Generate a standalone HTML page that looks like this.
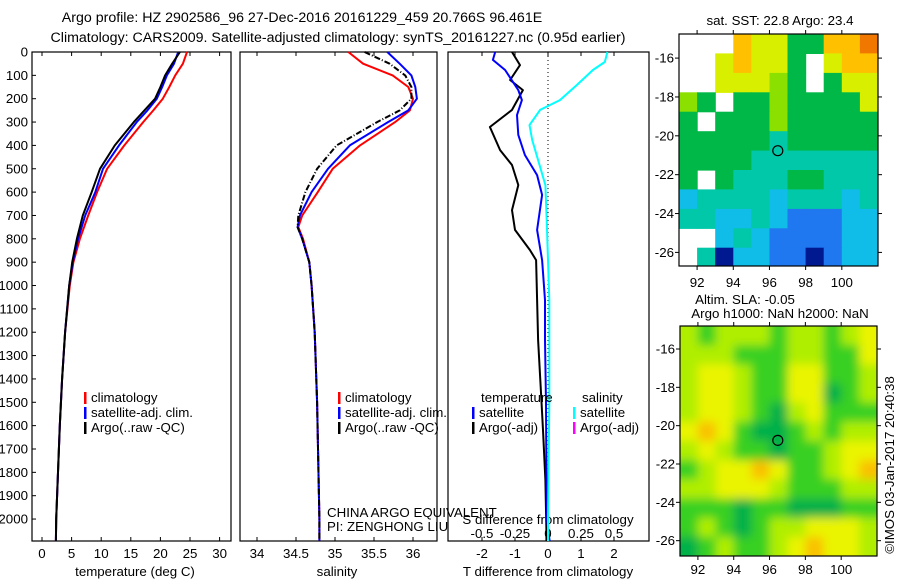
<!DOCTYPE html>
<html><head><meta charset="utf-8">
<style>
html,body{margin:0;padding:0;background:#fff;}
svg{display:block;font-family:"Liberation Sans",sans-serif;}
text{font-size:13.3px;fill:#000;}
text.ttl{font-size:14.2px;}
</style></head>
<body>
<svg id="fig" width="900" height="580" viewBox="0 0 900 580" xmlns="http://www.w3.org/2000/svg">
<defs>
<clipPath id="clipSST"><rect x="679" y="34" width="199" height="232"/></clipPath>
<clipPath id="clipSLA"><rect x="680" y="326" width="197" height="230"/></clipPath>
<filter id="blurSLA" x="-10%" y="-10%" width="120%" height="120%"><feGaussianBlur stdDeviation="4.8"/></filter>
</defs>
<text class="ttl" x="302" y="22" text-anchor="middle">Argo profile: HZ 2902586_96 27-Dec-2016 20161229_459 20.766S 96.461E</text>
<text class="ttl" x="338" y="42" text-anchor="middle">Climatology: CARS2009. Satellite-adjusted climatology: synTS_20161227.nc (0.95d earlier)</text>
</svg>
<script>
// ---------- data ----------
var tDepths = [0,50,100,150,200,250,300,400,500,600,700,800,900,1000,1200,1400,1600,1800,2000,2094];
var tempClim = [24.5,23.8,22.5,21.5,20.4,18.8,17.1,13.9,11.0,9.3,7.8,6.4,5.3,4.7,3.9,3.4,3.0,2.7,2.4,2.35];
var tempSat  = [23.0,22.3,21.1,20.3,19.4,17.8,16.0,13.0,10.3,9.0,7.3,6.1,5.2,4.6,3.9,3.4,3.0,2.7,2.4,2.35];
var tempArgo = [23.3,22.0,20.8,20.0,19.1,17.3,15.5,12.3,9.8,8.4,6.9,5.9,5.1,4.6,3.9,3.4,3.0,2.7,2.4,2.35];
var sDepths = [0,50,100,150,200,250,300,400,500,600,700,750,800,900,1000,1200,1500,2000,2094];
var salClim = [35.17,35.36,35.74,35.94,36.0,35.96,35.77,35.32,34.97,34.78,34.58,34.53,34.59,34.67,34.70,34.74,34.77,34.80,34.80];
var salSat  = [35.67,35.83,35.98,36.03,36.05,35.94,35.68,35.19,34.91,34.70,34.55,34.52,34.58,34.67,34.70,34.74,34.77,34.80,34.80];
var salArgo = [35.38,35.70,35.90,35.98,35.98,35.83,35.54,35.02,34.77,34.62,34.53,34.52,34.58,34.67,34.70,34.74,34.77,34.80,34.80];
var dArgoDepths = [0,56,120,163,248,321,420,484,570,677,762,848,891,1062,1233,1490,1619,1833,2047,2094];
var dTempArgo = [-1.09,-0.85,-1.15,-0.76,-1.09,-1.76,-1.45,-1.09,-0.9,-1.09,-1.0,-0.55,-0.36,-0.33,-0.3,-0.2,-0.15,-0.08,-0.05,-0.05];
var dSatDepths = [0,34,77,163,206,270,355,441,527,612,762,891,1062,1233,1500,1800,2000,2094];
var dTempSat = [-1.6,-1.67,-1.3,-0.9,-0.79,-0.94,-0.9,-0.7,-0.33,-0.18,-0.33,-0.18,-0.09,-0.09,-0.06,-0.05,-0.03,0.05];
var dSalDepths = [0,43,77,141,206,248,313,377,463,570,719,891,1062,1500,2000,2094];
var dSalSat = [0.45,0.43,0.34,0.22,0.09,-0.06,-0.14,-0.12,-0.075,-0.02,-0.01,0,0.01,0.01,0.0,0.0];
var depthTicks = [0,100,200,300,400,500,600,700,800,900,1000,1100,1200,1300,1400,1500,1600,1700,1800,1900,2000];
var tempTicks = [0,5,10,15,20,25,30];
var salTicks = [34,34.5,35,35.5,36];
var salTickLabels = ["34","34.5","35","35.5","36"];
var dTTicks = [-2,-1,0,1,2];
var dSTicks = [-0.5,-0.25,0,0.25,0.5];
var dSTickLabels = ["-0.5","-0.25","0","0.25","0.5"];
var lonTicks = [92,94,96,98,100];
var latTicks = [-16,-18,-20,-22,-24,-26];
var argoLon = 96.461, argoLat = -20.766;
// SST map: 1-degree cells, rows from -14.8 southward, cols lon 91..101; 9 = no data
var sstGrid = [
[9,9,9,6,5,5,3,3,6,6,7],
[9,9,5,6,5,5,3,9,5,6,6],
[9,9,5,5,5,4,3,9,3,5,5],
[4,3,9,3,3,4,3,3,3,3,5],
[3,9,3,3,3,4,3,3,3,3,3],
[3,3,3,3,3,2,3,3,3,3,3],
[3,3,3,3,2,2,2,2,2,2,2],
[3,9,3,2,2,2,3,3,2,2,2],
[1,2,2,2,2,1,2,2,2,1,2],
[2,2,1,1,2,1,0,0,0,1,1],
[9,9,1,2,1,0,0,0,0,1,1],
[9,2,8,1,1,0,0,8,0,1,1]];
// SLA map values 0..4
var slaGrid = [
[2,1,2,2,2,1,2,2,1,2,3],
[2,2,2,1,1,1,2,2,1,1,3],
[2,3,3,2,1,1,3,3,1,1,2],
[2,3,3,2,1,1,3,3,0,1,2],
[2,3,3,2,1,0,2,3,1,1,1],
[3,4,3,1,0,0,1,2,1,2,2],
[2,3,2,1,1,0,1,1,2,3,3],
[1,2,3,3,4,3,1,1,2,3,4],
[2,2,3,3,3,2,1,1,1,2,2],
[1,1,1,0,1,1,0,0,0,1,1],
[1,2,1,0,1,2,2,3,3,3,2],
[0,1,2,1,1,2,3,4,3,3,2]];

var sstColors = ["#1f78f0","#10bce8","#00c8a8","#00b848","#8ce000","#d8f000","#ffc000","#f07800","#001890"];
var slaColors = ["#00b048","#38d020","#b0ee00","#eaf400","#fac000"];

// ---------- helpers ----------
var svg = document.getElementById('fig');
var NS = "http://www.w3.org/2000/svg";
function mk(tag, attrs, parent){var e=document.createElementNS(NS,tag);for(var k in attrs)e.setAttribute(k,attrs[k]);(parent||svg).appendChild(e);return e;}
function txt(x,y,s,anchor,parent){var t=mk('text',{x:x,y:y,'text-anchor':anchor||'start'},parent);t.textContent=s;return t;}

var TOP=52, BOT=541, DMAX=2094;
function yD(d){return TOP+(BOT-TOP)*d/DMAX;}
function xT(v){return 42+v*5.92;}
function xS(v){return 257+(v-34)*78;}
function xDT(v){return 548+v*33;}
function xDS(v){return 548+v*132;}

function panel(x0,x1,name){
  var r=mk('rect',{x:x0,y:TOP,width:x1-x0,height:BOT-TOP,fill:'none',stroke:'#000','stroke-width':1.2});
  
  
}
function line(xs,ds,xf,color,name,dash,w){
  var p='';for(var i=0;i<xs.length;i++){p+=(i?'L':'M')+xf(xs[i]).toFixed(1)+','+yD(ds[i]).toFixed(1);}
  var a={d:p,fill:'none',stroke:color,'stroke-width':w||2,'stroke-linejoin':'round'};
  if(dash)a['stroke-dasharray']=dash;
  var e=mk('path',a);
  
  
}

// Panel 1 temperature
panel(32,231,'temperature-panel');
for(var i=0;i<depthTicks.length;i++){
  var y=yD(depthTicks[i]);
  mk('line',{x1:32,y1:y,x2:36,y2:y,stroke:'#000'});
  var lt=txt(28,y+4.5,String(depthTicks[i]),'end');
  
  
}
for(var i=0;i<tempTicks.length;i++){
  var x=xT(tempTicks[i]);
  mk('line',{x1:x,y1:TOP,x2:x,y2:TOP+4,stroke:'#000'});
  mk('line',{x1:x,y1:BOT,x2:x,y2:BOT-4,stroke:'#000'});
  var l=txt(x,558,String(tempTicks[i]),'middle');
  
  
}
var xl1=txt(135,576,'temperature (deg C)','middle');


line(tempClim,tDepths,xT,'#ff0000','temp-climatology-line');
line(tempSat,tDepths,xT,'#0000ff','temp-satellite-line');
line(tempArgo,tDepths,xT,'#000000','temp-argo-line');

// Panel 2 salinity
panel(240,437,'salinity-panel');
for(var i=0;i<salTicks.length;i++){
  var x=xS(salTicks[i]);
  mk('line',{x1:x,y1:TOP,x2:x,y2:TOP+4,stroke:'#000'});
  mk('line',{x1:x,y1:BOT,x2:x,y2:BOT-4,stroke:'#000'});
  var l=txt(x,558,salTickLabels[i],'middle');
  
  
}
var xl2=txt(337,576,'salinity','middle');


line(salClim,sDepths,xS,'#ff0000','sal-climatology-line');
line(salSat,sDepths,xS,'#0000ff','sal-satellite-line');
line(salArgo,sDepths,xS,'#000000','sal-argo-line','6 2 1 2');

// Panel 3 differences
panel(448,649,'difference-panel');
mk('line',{x1:548,y1:TOP,x2:548,y2:BOT,stroke:'#000','stroke-dasharray':'1 3'});
for(var i=0;i<dTTicks.length;i++){
  var x=xDT(dTTicks[i]);
  mk('line',{x1:x,y1:TOP,x2:x,y2:TOP+4,stroke:'#000'});
  mk('line',{x1:x,y1:BOT,x2:x,y2:BOT-4,stroke:'#000'});
  var l=txt(x,558,String(dTTicks[i]),'middle');
  
  
}
for(var i=0;i<dSTicks.length;i++){
  var l=txt(xDS(dSTicks[i]),538,dSTickLabels[i],'middle');
  
  
}
var sdl=txt(548,524,'S difference from climatology','middle');


var tdl=txt(548,576,'T difference from climatology','middle');


line(dTempArgo,dArgoDepths,xDT,'#000000','temp-diff-argo-line');
line(dTempSat,dSatDepths,xDT,'#0000ff','temp-diff-satellite-line');
line(dSalSat,dSalDepths,xDS,'#00ffff','sal-diff-satellite-line');

// Legends
function legEntry(x,y,color,label,name){
  var g=mk('g',{});
  
  
  mk('rect',{x:x,y:y-10,width:2.5,height:12,fill:color},g);
  txt(x+7,y,label,'start',g);
}
legEntry(84,402,'#ff0000','climatology','legend-climatology');
legEntry(84,417,'#0000ff','satellite-adj. clim.','legend-satellite-adj');
legEntry(84,432,'#000000','Argo(..raw -QC)','legend-argo');
legEntry(338,402,'#ff0000','climatology','legend-sal-climatology');
legEntry(338,417,'#0000ff','satellite-adj. clim.','legend-sal-satellite-adj');
legEntry(338,432,'#000000','Argo(..raw -QC)','legend-sal-argo');
var lt1=txt(481,402,'temperature');


var lt2=txt(582,402,'salinity');


legEntry(472,417,'#0000ff','satellite','legend-temp-satellite');
legEntry(472,432,'#000000','Argo(-adj)','legend-temp-argo');
legEntry(573,417,'#00ffff','satellite','legend-sal-satellite');
legEntry(573,432,'#ff00ff','Argo(-adj)','legend-sal-argo');
var c1=txt(327,517,'CHINA ARGO EQUIVALENT');


var c2=txt(327,531,'PI: ZENGHONG LIU');



// ---------- maps ----------
function mapAxes(x0,y0,x1,y1,latTop,latBot,name,labY){
  var lonL=91.0, lonR=102.0;
  function mx(l){return x0+(l-lonL)/(lonR-lonL)*(x1-x0);}
  function my(l){return y0+(latTop-l)/(latTop-latBot)*(y1-y0);}
  var r=mk('rect',{x:x0,y:y0,width:x1-x0,height:y1-y0,fill:'none',stroke:'#000','stroke-width':1.2});
  
  
  for(var i=0;i<lonTicks.length;i++){
    var x=mx(lonTicks[i]);
    mk('line',{x1:x,y1:y0,x2:x,y2:y0-4,stroke:'#000'});
    mk('line',{x1:x,y1:y1,x2:x,y2:y1+4,stroke:'#000'});
    var l=txt(x,labY,String(lonTicks[i]),'middle');
    
    
  }
  for(var i=0;i<latTicks.length;i++){
    var y=my(latTicks[i]);
    mk('line',{x1:x0,y1:y,x2:x0-4,y2:y,stroke:'#000'});
    mk('line',{x1:x1,y1:y,x2:x1+4,y2:y,stroke:'#000'});
    var l=txt(x0-5,y+4.5,String(latTicks[i]),'end');
    
    
  }
  return {mx:mx,my:my};
}
// SST map
var sstG=mk('g',{'clip-path':'url(#clipSST)'});


var sstLatTop=-14.76, sstLatBot=-26.7;
function sx(l){return 679+(l-91)/11*199;}
function sy(l){return 34+(sstLatTop-l)/(sstLatTop-sstLatBot)*232;}
for(var r=0;r<sstGrid.length;r++){for(var c=0;c<sstGrid[r].length;c++){
  var v=sstGrid[r][c]; if(v===9)continue;
  var cell=mk('rect',{x:sx(91+c).toFixed(1),y:sy(sstLatTop-r).toFixed(1),width:(199/11+0.6).toFixed(1),height:(232/11.94+0.6).toFixed(1),fill:sstColors[v]},sstG);
  
  
}}
var m1=mapAxes(679,34,878,266,sstLatTop,sstLatBot,'sst-map-frame',287);
var pt1=mk('circle',{cx:m1.mx(argoLon),cy:m1.my(argoLat),r:5,fill:'none',stroke:'#000','stroke-width':1.2});


var st1=txt(780,25,'sat. SST: 22.8 Argo: 23.4','middle');



// SLA map
var slaClip=mk('g',{'clip-path':'url(#clipSLA)'});
var slaG=mk('g',{filter:'url(#blurSLA)'},slaClip);


var slaLatTop=-14.8, slaLatBot=-26.8;
function ax(l){return 680+(l-91)/11*197;}
function ay(l){return 326+(slaLatTop-l)/(slaLatTop-slaLatBot)*230;}
for(var r=0;r<slaGrid.length;r++){for(var c=0;c<slaGrid[r].length;c++){
  var v=slaGrid[r][c];
  var x=ax(91+c), y=ay(slaLatTop-r), w=197/11+0.6, h=230/12+0.6;
  if(c===0){x-=12;w+=12;} if(c===10){w+=12;} if(r===0){y-=12;h+=12;} if(r===11){h+=12;}
  var cell=mk('rect',{x:x.toFixed(1),y:y.toFixed(1),width:w.toFixed(1),height:h.toFixed(1),fill:slaColors[v]},slaG);
  
  
}}
var m2=mapAxes(680,326,877,556,slaLatTop,slaLatBot,'sla-map-frame',574);
var pt2=mk('circle',{cx:m2.mx(argoLon),cy:m2.my(argoLat),r:5,fill:'none',stroke:'#000','stroke-width':1.2});


var st2=txt(745,304,'Altim. SLA: -0.05','middle');


var st3=txt(780,318,'Argo h1000: NaN h2000: NaN','middle');


var cr=mk('text',{x:0,y:0,'text-anchor':'middle',transform:'translate(894,465) rotate(-90)'});
cr.textContent='\u00A9IMOS 03-Jan-2017 20:40:38';


</script>
</body></html>
